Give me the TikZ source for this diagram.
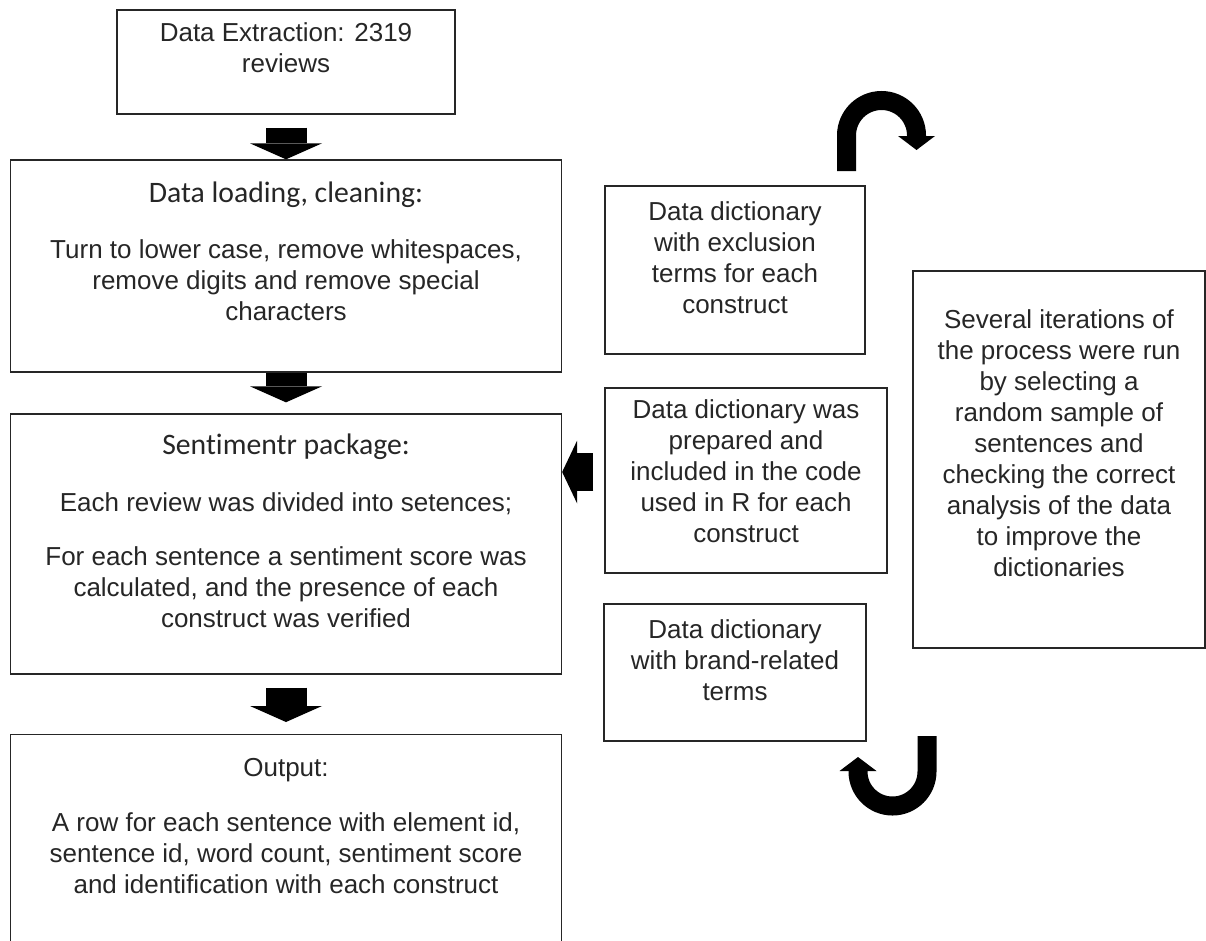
\documentclass[tikz,border=0pt]{standalone}
\usepackage{fontspec}
\setmainfont{Liberation Sans}
\newfontfamily\calibrifont[Ligatures=NoCommon]{Carlito}
\usetikzlibrary{arrows.meta,positioning,calc}
\tikzset{
  block/.style={draw=black!85, line width=1.3pt, inner sep=0pt},
  txt/.style={align=center, inner sep=0pt, text=black!85, font=\fontsize{26}{31}\selectfont},
  head/.style={align=center, inner sep=0pt, text=black!85, font=\calibrifont\fontsize{29.7}{34}\selectfont},
  fatline/.style={line width=41pt, -{Triangle[width=72pt, length=16pt, line width=0pt]}},
  sideline/.style={line width=38pt, -{Triangle[width=63pt, length=15pt, line width=0pt]}},
  turnline/.style={line width=19pt, -{Triangle[width=37pt, length=14pt, line width=0pt]}}
}

\begin{document}
\begin{tikzpicture}[x=1pt, y=1pt]
  \useasboundingbox (0,0) rectangle (1206,-940);

  % main flow
  \node[block, minimum width=338pt, minimum height=104pt] (extract) at (286,-62) {};
  \node[txt, below=13pt of extract.north] (extracttxt) {Data Extraction: 2319\\reviews};

  \node[block, minimum width=551pt, minimum height=212pt] (clean) at (286,-266) {};
  \node[head, below=22.5pt of clean.north] (cleanhead) {Data loading, cleaning:};
  \node[txt, below=80pt of clean.north] (cleantxt) {Turn to lower case, remove whitespaces,\\remove digits and remove special\\characters};

  \node[block, minimum width=551pt, minimum height=260pt] (senti) at (286,-544) {};
  \node[head, below=20pt of senti.north] (sentihead) {Sentimentr package:};
  \node[txt, below=79pt of senti.north] (sentitxt) {Each review was divided into setences;\\[23pt]For each sentence a sentiment score was\\calculated, and the presence of each\\construct was verified};

  \node[block, minimum width=551pt, minimum height=215pt, anchor=north] (output) at (286,-734) {};
  \node[txt, below=24pt of output.north] (outputhead) {Output:};
  \node[txt, below=78pt of output.north] (outputtxt) {A row for each sentence with element id,\\sentence id, word count, sentiment score\\and identification with each construct};

  \draw[fatline] ([yshift=-13pt]extract.south) -- (clean.north);
  \draw[fatline] (clean.south) -- ([yshift=11pt]senti.north);
  \draw[fatline] ([yshift=-13pt]senti.south) -- ([yshift=12pt]output.north);

  % dictionaries
  \node[block, minimum width=260pt, minimum height=168pt] (exclude) at (735,-270) {};
  \node[txt, below=16pt of exclude.north] (excludetxt) {Data dictionary\\with exclusion\\terms for each\\construct};

  \node[block, minimum width=282pt, minimum height=185pt] (prepare) at (746,-480.5) {};
  \node[txt, below=12pt of prepare.north] (preparetxt) {Data dictionary was\\prepared and\\included in the code\\used in R for each\\construct};

  \node[block, minimum width=262pt, minimum height=137pt] (brand) at (735,-672.5) {};
  \node[txt, below=16pt of brand.north] (brandtxt) {Data dictionary\\with brand-related\\terms};

  \node[block, minimum width=292pt, minimum height=377pt] (iterate) at (1059,-459.5) {};
  \node[txt, below=39pt of iterate.north] (iteratetxt) {Several iterations of\\the process were run\\by selecting a\\random sample of\\sentences and\\checking the correct\\analysis of the data\\to improve the\\dictionaries};

  \coordinate (sidetip) at ([yshift=72pt]senti.east);
  \draw[sideline] ($(prepare.west |- sidetip)+(-11pt,0)$) -- (sidetip);

  % loop arrows
  \coordinate (turnin) at (846.5,-171);
  \coordinate (turnout) at (916.5,-150);
  \draw[turnline] (turnin) -- ++(0,35.5) arc[start angle=180, end angle=0, radius=35] -- (turnout);

  \coordinate (backin) at (927,-736);
  \coordinate (backout) at (858,-757);
  \draw[turnline] (backin) -- ++(0,-35.5) arc[start angle=0, end angle=-180, radius=34.5] -- (backout);
\end{tikzpicture}
\end{document}
